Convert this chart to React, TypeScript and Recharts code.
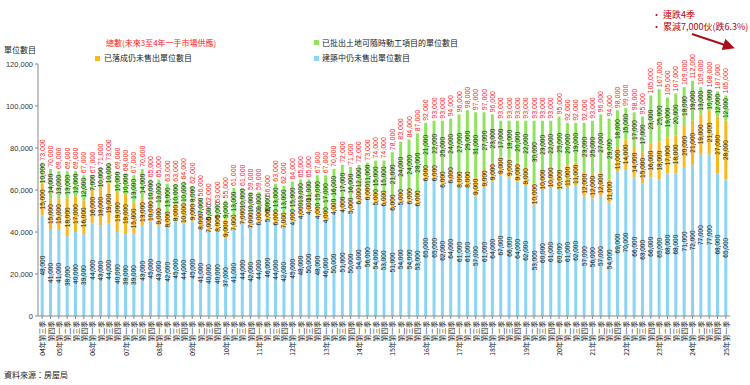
import React from 'react';
import { BarChart, Bar, XAxis, YAxis, LabelList } from 'recharts';

const quarters = [
  '04年第三季', '第四季',
  '05年第一季', '第二季', '第三季', '第四季',
  '06年第一季', '第二季', '第三季', '第四季',
  '07年第一季', '第二季', '第三季', '第四季',
  '08年第一季', '第二季', '第三季', '第四季',
  '09年第一季', '第二季', '第三季', '第四季',
  '10年第一季', '第二季', '第三季', '第四季',
  '11年第一季', '第二季', '第三季', '第四季',
  '12年第一季', '第二季', '第三季', '第四季',
  '13年第一季', '第二季', '第三季', '第四季',
  '14年第一季', '第二季', '第三季', '第四季',
  '15年第一季', '第二季', '第三季', '第四季',
  '16年第一季', '第二季', '第三季', '第四季',
  '17年第一季', '第二季', '第三季', '第四季',
  '18年第一季', '第二季', '第三季', '第四季',
  '19年第一季', '第二季', '第三季', '第四季',
  '20年第一季', '第二季', '第三季', '第四季',
  '21年第一季', '第二季', '第三季', '第四季',
  '22年第一季', '第二季', '第三季', '第四季',
  '23年第一季', '第二季', '第三季', '第四季',
  '24年第一季', '第二季', '第三季', '第四季',
  '25年第一季',
];

// 建築中仍未售出單位數目
const underConstruction = [
  48000, 41000,
  41000, 38000, 40000, 39000,
  44000, 43000, 44000, 40000,
  39000, 39000, 43000, 45000,
  43000, 42000, 45000, 44000,
  45000, 41000, 40000, 40000,
  37000, 41000, 44000, 42000,
  44000, 46000, 44000, 42000,
  45000, 48000, 50000, 48000,
  46000, 50000, 51000, 50000,
  54000, 56000, 54000, 53000,
  51000, 54000, 54000, 53000,
  65000, 65000, 62000, 64000,
  61000, 61000, 57000, 61000,
  64000, 67000, 66000, 64000,
  62000, 53000, 60000, 61000,
  60000, 61000, 62000, 57000,
  56000, 57000, 54000, 69000,
  70000, 66000, 63000, 66000,
  65000, 68000, 68000, 71000,
  72000, 77000, 77000, 68000,
  65000,
];

// 已落成仍未售出單位數目
const completedUnsold = [
  15000, 15000,
  15000, 18000, 17000, 16000,
  16000, 18000, 19000, 19000,
  19000, 15000, 13000, 10000,
  9000, 8000, 8000, 10000,
  9000, 8000, 7000, 8000,
  9000, 7000, 7000, 7000,
  6000, 5000, 6000, 7000,
  4000, 4000, 4000, 4000,
  4000, 4000, 4000, 5000,
  6000, 6000, 5000, 6000,
  6000, 5000, 6000, 6000,
  6000, 6000, 6000, 6000,
  8000, 8000, 9000, 9000,
  9000, 9000, 9000, 9000,
  9000, 10000, 10000, 10000,
  10000, 11000, 11000, 12000,
  12000, 12000, 11000, 11000,
  14000, 14000, 15000, 16000,
  18000, 17000, 18000, 20000,
  21000, 19000, 21000, 27000,
  28000,
];

// 已批出土地可隨時動工項目的單位數目
const landReady = [
  10000, 14000,
  13000, 13000, 12000, 12000,
  7000, 10000, 10000, 10000,
  10000, 13000, 14000, 10000,
  13000, 13000, 10000, 10000,
  8000, 7000, 5000, 5000,
  9000, 13000, 10000, 10000,
  9000, 5000, 13000, 13000,
  15000, 13000, 11000, 15000,
  17000, 16000, 17000, 16000,
  12000, 11000, 15000, 15000,
  21000, 24000, 24000, 28000,
  21000, 22000, 25000, 24000,
  27000, 29000, 31000, 27000,
  23000, 17000, 18000, 20000,
  22000, 30000, 23000, 22000,
  25000, 20000, 19000, 23000,
  25000, 27000, 29000, 18000,
  15000, 17000, 17000, 23000,
  25000, 19000, 20000, 18000,
  19000, 13000, 10000, 12000,
  12000,
];

// 總數(未來3至4年一手市場供應)
const totals = [
  73000, 70000,
  69000, 69000, 69000, 67000,
  67000, 71000, 73000, 69000,
  68000, 67000, 70000, 65000,
  65000, 63000, 63000, 64000,
  62000, 56000, 52000, 53000,
  55000, 61000, 61000, 59000,
  59000, 56000, 63000, 62000,
  64000, 65000, 65000, 67000,
  67000, 70000, 72000, 71000,
  72000, 73000, 74000, 74000,
  78000, 83000, 84000, 87000,
  92000, 93000, 93000, 94000,
  96000, 98000, 97000, 97000,
  96000, 93000, 93000, 93000,
  93000, 93000, 93000, 93000,
  95000, 92000, 92000, 92000,
  93000, 96000, 94000, 98000,
  99000, 98000, 95000, 105000,
  107000, 105000, 107000, 109000,
  112000, 109000, 108000, 107000,
  105000,
];

const yTicks = [0, 20000, 40000, 60000, 80000, 100000, 120000];

const data = quarters.map((q, i) => ({
  q,
  uc: underConstruction[i],
  cu: completedUnsold[i],
  lr: landReady[i],
  total: totals[i],
}));

const fmt = (v: number) => v.toLocaleString('en-US');
const LABEL_FONT = '"Liberation Sans", Arial, sans-serif';
const CJK_FONT = '"Noto Sans CJK TC", "Noto Sans", sans-serif';

const segLabel = (props: any) => {
  const { x, y, width, height, value } = props;
  const cx = Number(x) + Number(width) / 2;
  const cy = Number(y) + Number(height) / 2;
  return (
    <text
      transform={`translate(${cx},${cy}) rotate(-90)`}
      textAnchor="middle"
      dominantBaseline="central"
      fontSize={6.5}
      fontFamily={LABEL_FONT}
      fill="#111"
    >
      {fmt(Number(value))}
    </text>
  );
};

const totalLabel = (props: any) => {
  const { x, y, width, value } = props;
  const cx = Number(x) + Number(width) / 2;
  const cy = Number(y) - 2;
  return (
    <text
      transform={`translate(${cx},${cy}) rotate(-90)`}
      textAnchor="start"
      dominantBaseline="central"
      fontSize={7}
      fontFamily={LABEL_FONT}
      fill="#FF2020"
    >
      {fmt(Number(value))}
    </text>
  );
};

const XTick = (props: any) => {
  const { x, y, payload } = props;
  return (
    <text
      transform={`translate(${x},${y}) rotate(-90)`}
      textAnchor="end"
      dominantBaseline="central"
      fontSize={6.8}
      fontFamily={CJK_FONT}
      fill="#222"
    >
      {payload.value}
    </text>
  );
};

const BLUE = '#8AD4F4';
const ORANGE = '#FBB81C';
const GREEN = '#8FE35C';

export default function App() {
  const legendText: React.CSSProperties = {
    position: 'absolute',
    fontSize: 8,
    fontFamily: CJK_FONT,
    color: '#222',
    whiteSpace: 'nowrap',
    lineHeight: '10px',
  };
  const square = (left: number, top: number, color: string): React.CSSProperties => ({
    position: 'absolute',
    left,
    top,
    width: 5,
    height: 5,
    background: color,
  });
  return (
    <div style={{ position: 'absolute', left: 0, top: 0, width: 750, height: 385, background: '#fff' }}>
      <BarChart
        width={750}
        height={385}
        data={data}
        margin={{ top: 64, right: 20, bottom: 9, left: 0 }}
        barCategoryGap="32%"
      >
        <XAxis
          dataKey="q"
          interval={0}
          tick={<XTick />}
          tickSize={3}
          tickMargin={2}
          height={60}
          stroke="#888"
        />
        <YAxis
          domain={[0, 120000]}
          ticks={yTicks}
          width={38}
          tickSize={3}
          tickMargin={2}
          stroke="#888"
          tick={{ fontSize: 7.5, fill: '#333', fontFamily: LABEL_FONT }}
          tickFormatter={(v: number) => fmt(v)}
        />
        <Bar dataKey="uc" stackId="a" fill={BLUE} isAnimationActive={false}>
          <LabelList dataKey="uc" content={segLabel} />
        </Bar>
        <Bar dataKey="cu" stackId="a" fill={ORANGE} isAnimationActive={false}>
          <LabelList dataKey="cu" content={segLabel} />
        </Bar>
        <Bar dataKey="lr" stackId="a" fill={GREEN} isAnimationActive={false}>
          <LabelList dataKey="lr" content={segLabel} />
          <LabelList dataKey="total" content={totalLabel} />
        </Bar>
      </BarChart>

      <div style={{ ...legendText, left: 4, top: 45 }}>單位數目</div>

      <div style={{ ...legendText, left: 106, top: 38, color: '#FF2020' }}>總數(未來3至4年一手市場供應)</div>
      <div style={square(95, 56, ORANGE)} />
      <div style={{ ...legendText, left: 104, top: 53 }}>已落成仍未售出單位數目</div>
      <div style={square(314, 40, GREEN)} />
      <div style={{ ...legendText, left: 322, top: 38 }}>已批出土地可隨時動工項目的單位數目</div>
      <div style={square(314, 56, BLUE)} />
      <div style={{ ...legendText, left: 322, top: 53 }}>建築中仍未售出單位數目</div>

      <div style={{ ...legendText, left: 652, top: 9, fontSize: 9, color: '#C00000', lineHeight: '12px' }}>• 連跌4季</div>
      <div style={{ ...legendText, left: 652, top: 21, fontSize: 9, color: '#C00000', lineHeight: '12px' }}>• 累減7,000伙(跌6.3%)</div>

      <svg width={750} height={385} style={{ position: 'absolute', left: 0, top: 0, pointerEvents: 'none' }}>
        <defs>
          <marker id="arr" markerWidth="6" markerHeight="6" refX="4" refY="3" orient="auto" markerUnits="strokeWidth">
            <path d="M0,0 L6,3 L0,6 Z" fill="#A8101C" />
          </marker>
        </defs>
        <line x1={692} y1={34} x2={731} y2={47} stroke="#A8101C" strokeWidth={2} markerEnd="url(#arr)" />
      </svg>

      <div style={{ ...legendText, left: 4, top: 370 }}>資料來源：房屋局</div>
    </div>
  );
}
